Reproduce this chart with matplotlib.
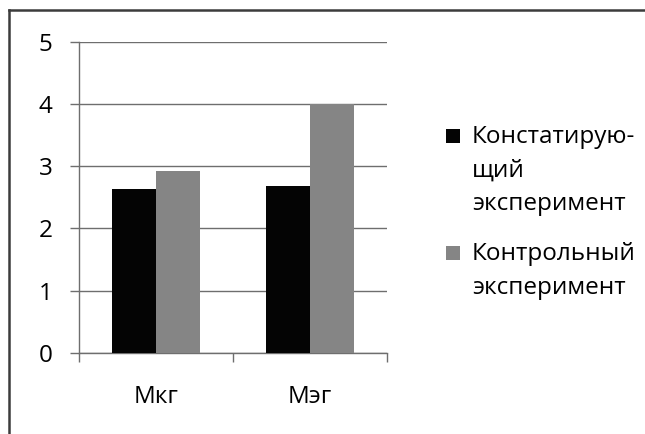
import matplotlib
matplotlib.use("Agg")
import matplotlib.pyplot as plt
import numpy as np
from matplotlib.lines import Line2D
from matplotlib.patches import Rectangle

plt.rcParams['font.family'] = ['Open Sans', 'DejaVu Sans']

categories = ["Мкг", "Мэг"]
series_names = ["Констатирую-\nщий\nэксперимент", "Контрольный\nэксперимент"]
ascertaining = [2.63, 2.69]
control = [2.93, 4.0]
series_values = [ascertaining, control]
series_colors = ["#040404", "#858585"]
y_ticks = [0, 1, 2, 3, 4, 5]

W, H = 645, 434
fig = plt.figure(figsize=(W / 100, H / 100), dpi=100)

ax = fig.add_axes([79 / W, 1 - 353 / H, (387 - 79) / W, (353 - 41.75) / H])

grid_color = "#6e6e6e"
text_color = "#000000"
fs = 17.5
n = len(categories)
x = np.arange(n)
bar_w = 0.285
for i, (vals, col) in enumerate(zip(series_values, series_colors)):
    offs = (i - (len(series_values) - 1) / 2) * bar_w
    ax.bar(x + offs, vals, width=bar_w, color=col, edgecolor="none", zorder=3)

ax.set_xlim(-0.5, n - 0.5)
ax.set_ylim(0, 5)
ax.set_yticks(y_ticks)
ax.set_yticklabels([str(t) for t in y_ticks])
ax.yaxis.grid(True, color=grid_color, linewidth=1.0, zorder=1)
ax.set_axisbelow(True)

ax.set_xticks(x)
ax.set_xticklabels(categories)
ax.set_xticks(np.arange(n + 1) - 0.5, minor=True)

for s in ["top", "right"]:
    ax.spines[s].set_visible(False)
for s in ["left", "bottom"]:
    ax.spines[s].set_color(grid_color)
    ax.spines[s].set_linewidth(1.0)

tick_len = 9 / 1.389
ax.tick_params(axis="y", which="major", length=tick_len, width=1.0, color=grid_color,
               pad=12.5, labelsize=fs, labelcolor=text_color)
ax.tick_params(axis="x", which="major", length=0, pad=23, labelsize=fs, labelcolor=text_color)
ax.tick_params(axis="x", which="minor", length=tick_len, width=1.0, color=grid_color)

# outer frame: left and top edges only
fig.add_artist(Line2D([9.2 / W, 9.2 / W], [0, 1 - 10 / H], transform=fig.transFigure,
                      color="#3c3c3c", linewidth=1.8))
fig.add_artist(Line2D([9.2 / W, 1], [1 - 10 / H, 1 - 10 / H], transform=fig.transFigure,
                      color="#3c3c3c", linewidth=1.8))

# legend: square key plus wrapped label lines
entry_tops = [143, 260]
line_step = 33.5
for name, col, base in zip(series_names, series_colors, entry_tops):
    fig.add_artist(Rectangle((446 / W, 1 - base / H), 14 / W, 14 / H,
                             transform=fig.transFigure, facecolor=col, edgecolor="none"))
    for k, line in enumerate(name.split("\n")):
        fig.text(472 / W, 1 - (base + k * line_step) / H, line, fontsize=fs,
                 color=text_color, ha="left", va="baseline")

fig.savefig("out.png", dpi=100)
